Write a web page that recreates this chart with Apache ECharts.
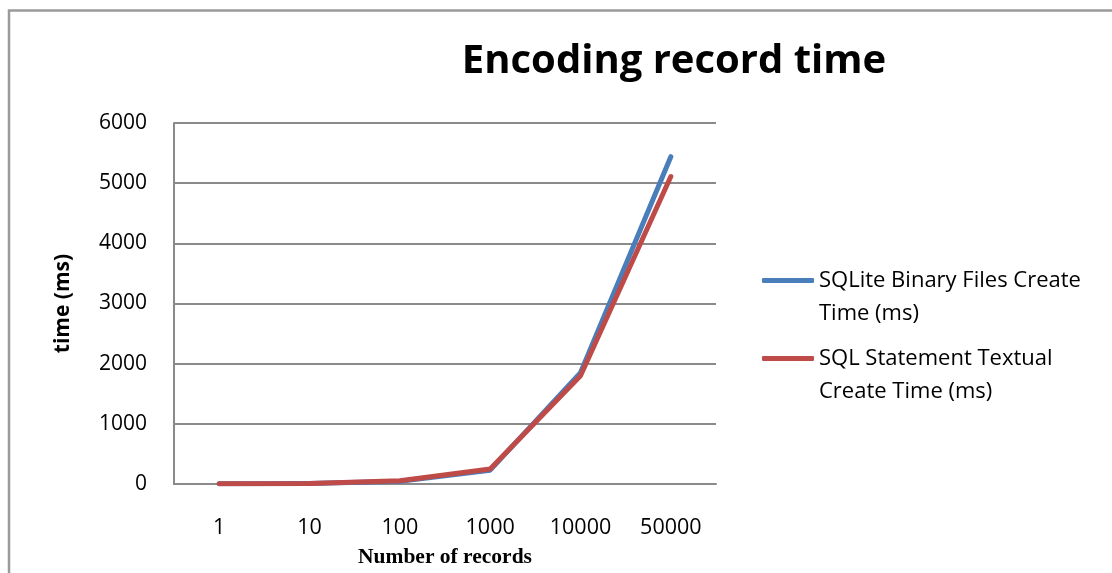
<!DOCTYPE html>
<html>
<head>
<meta charset="utf-8">
<script src="https://cdn.jsdelivr.net/npm/echarts@6/dist/echarts.min.js"></script>
<style>
html,body{margin:0;padding:0;background:#fff;overflow:hidden;}
#c{width:1112px;height:573px;}
</style>
</head>
<body>
<div id="c"></div>
<script>
var categories = ['1', '10', '100', '1000', '10000', '50000'];
var binaryTimes = [3, 10, 45, 230, 1850, 5440];
var textualTimes = [3, 10, 55, 250, 1800, 5110];
var yTicks = [0, 1000, 2000, 3000, 4000, 5000, 6000];
var seriesNames = ['SQLite Binary Files Create Time (ms)', 'SQL Statement Textual Create Time (ms)'];
var legendLines = {
  'SQLite Binary Files Create Time (ms)': ['SQLite Binary Files Create', 'Time (ms)'],
  'SQL Statement Textual Create Time (ms)': ['SQL Statement Textual', 'Create Time (ms)']
};

var chart = echarts.init(document.getElementById('c'));
var legendText = {fontFamily: 'Open Sans', fontSize: 22, color: '#000', lineHeight: 33};
function fmt(n) { return '\n' + legendLines[n].join('\n'); }

chart.setOption({
  backgroundColor: '#fff',
  animation: false,
  graphic: [{
    type: 'polyline',
    shape: {points: [[9, 600], [9, 10.5], [1200, 10.5]]},
    style: {stroke: '#9a9a9a', lineWidth: 2.5, fill: null}
  }],
  title: {
    text: 'Encoding record time',
    left: 669,
    textAlign: 'center',
    top: 37,
    textStyle: {fontFamily: 'Open Sans', fontWeight: 'bold', fontSize: 40, color: '#000'}
  },
  legend: [{
    data: [seriesNames[0]],
    left: 757, top: 226,
    itemWidth: 52, itemHeight: 5,
    icon: 'roundRect',
    formatter: fmt,
    textStyle: legendText
  }, {
    data: [seriesNames[1]],
    left: 757, top: 304,
    itemWidth: 52, itemHeight: 5,
    icon: 'roundRect',
    formatter: fmt,
    textStyle: legendText
  }],
  grid: {left: 174, top: 123, width: 542, height: 367, containLabel: false},
  xAxis: {
    type: 'category',
    data: categories,
    boundaryGap: true,
    name: 'Number of records',
    nameLocation: 'middle',
    nameGap: 62,
    nameTextStyle: {fontFamily: 'Liberation Serif', fontWeight: 'bold', fontSize: 21.5, color: '#000'},
    axisLine: {lineStyle: {color: '#8a8a8a', width: 2}},
    axisTick: {show: false},
    axisLabel: {fontFamily: 'Open Sans', fontSize: 21.5, color: '#000', margin: 33}
  },
  yAxis: {
    type: 'value',
    min: yTicks[0],
    max: yTicks[yTicks.length - 1],
    interval: 1000,
    name: 'time (ms)',
    nameLocation: 'middle',
    nameGap: 100,
    nameTextStyle: {fontFamily: 'Open Sans', fontWeight: 'bold', fontSize: 21, color: '#000'},
    axisLine: {show: true, lineStyle: {color: '#8a8a8a', width: 2}},
    axisTick: {show: false},
    axisLabel: {fontFamily: 'Open Sans', fontSize: 21, color: '#000', margin: 27, formatter: function (v) { return String(v); }},
    splitLine: {show: true, lineStyle: {color: '#8a8a8a', width: 2}}
  },
  series: [{
    name: seriesNames[0],
    type: 'line',
    data: binaryTimes,
    symbol: 'none',
    lineStyle: {color: '#4a7ebb', width: 5, cap: 'round', join: 'round'},
    itemStyle: {color: '#4a7ebb'}
  }, {
    name: seriesNames[1],
    type: 'line',
    data: textualTimes,
    symbol: 'none',
    lineStyle: {color: '#be4b48', width: 5, cap: 'round', join: 'round'},
    itemStyle: {color: '#be4b48'}
  }]
});
</script>
</body>
</html>
